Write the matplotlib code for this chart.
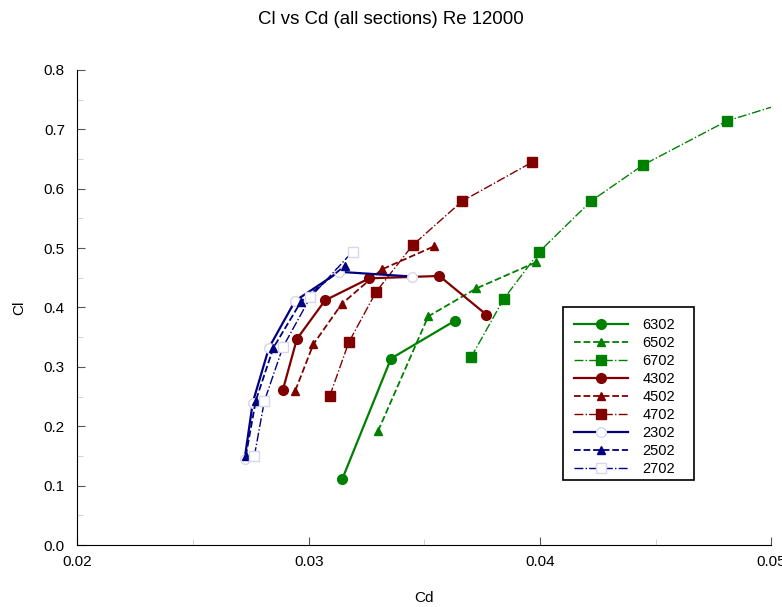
import matplotlib
matplotlib.use('Agg')
import matplotlib.pyplot as plt
from matplotlib.ticker import MultipleLocator
from matplotlib.patches import Rectangle

plt.rcParams['font.family'] = ['Liberation Sans', 'DejaVu Sans']

labels = ['6302', '6502', '6702', '4302', '4502', '4702', '2302', '2502', '2702']

cd_6302 = [0.03145, 0.03356, 0.03634]
cl_6302 = [0.111, 0.314, 0.378]
cd_6502 = [0.03300, 0.03517, 0.03725, 0.03983]
cl_6502 = [0.192, 0.385, 0.432, 0.476]
cd_6702 = [0.03702, 0.03843, 0.03998, 0.04221, 0.04447, 0.04809, 0.0525]
cl_6702 = [0.316, 0.414, 0.494, 0.579, 0.640, 0.714, 0.767]

cd_4302 = [0.02888, 0.02949, 0.03071, 0.03262, 0.03565, 0.03768]
cl_4302 = [0.261, 0.347, 0.412, 0.449, 0.453, 0.388]
cd_4502 = [0.02942, 0.03020, 0.03143, 0.03316, 0.03543]
cl_4502 = [0.260, 0.338, 0.406, 0.464, 0.503]
cd_4702 = [0.03091, 0.03173, 0.03291, 0.03450, 0.03664, 0.03964]
cl_4702 = [0.251, 0.341, 0.426, 0.505, 0.579, 0.644]

cd_2302 = [0.02723, 0.02758, 0.02828, 0.02941, 0.03131, 0.03448]
cl_2302 = [0.145, 0.240, 0.332, 0.411, 0.460, 0.452]
cd_2502 = [0.02728, 0.02771, 0.02847, 0.02967, 0.03156]
cl_2502 = [0.150, 0.243, 0.332, 0.410, 0.470]
cd_2702 = [0.02765, 0.02808, 0.02888, 0.03007, 0.03190]
cl_2702 = [0.150, 0.242, 0.333, 0.417, 0.494]

x_ticks = [0.02, 0.03, 0.04, 0.05]
x_ticklabels = ['0.02', '0.03', '0.04', '0.05']
y_ticks = [0.0, 0.1, 0.2, 0.3, 0.4, 0.5, 0.6, 0.7, 0.8]
y_ticklabels = ['0.0', '0.1', '0.2', '0.3', '0.4', '0.5', '0.6', '0.7', '0.8']

green = '#008000'
red = '#800000'
blue = '#000080'
pale = '#d6d6ee'

fig = plt.figure(figsize=(7.82, 6.07), dpi=100)
ax = fig.add_axes([0.0991, 0.102, 0.887, 0.783])

ax.plot(cd_6302, cl_6302, '-', color=green, lw=1.6, marker='o', ms=7, mec=green, label=labels[0])
ax.plot(cd_6502, cl_6502, '--', color=green, lw=1.3, marker='^', ms=6, mec=green, label=labels[1])
ax.plot(cd_6702, cl_6702, '-.', color=green, lw=1.0, marker='s', ms=7, mec=green, label=labels[2])
ax.plot(cd_4302, cl_4302, '-', color=red, lw=1.6, marker='o', ms=7, mec=red, label=labels[3])
ax.plot(cd_4502, cl_4502, '--', color=red, lw=1.3, marker='^', ms=6, mec=red, label=labels[4])
ax.plot(cd_4702, cl_4702, '-.', color=red, lw=1.0, marker='s', ms=7, mec=red, label=labels[5])
ax.plot(cd_2302, cl_2302, '-', color=blue, lw=1.6, marker='o', ms=7, mfc='white', mec=pale, label=labels[6])
ax.plot(cd_2502, cl_2502, '--', color=blue, lw=1.3, marker='^', ms=6, mec=blue, label=labels[7])
ax.plot(cd_2702, cl_2702, '-.', color=blue, lw=1.0, marker='s', ms=7, mfc='white', mec=pale, label=labels[8])

ax.set_xlim(0.02, 0.05)
ax.set_ylim(0.0, 0.8)
ax.set_xticks(x_ticks)
ax.set_xticklabels(x_ticklabels)
ax.set_yticks(y_ticks)
ax.set_yticklabels(y_ticklabels)
ax.xaxis.set_minor_locator(MultipleLocator(0.005))
ax.yaxis.set_minor_locator(MultipleLocator(0.05))

ax.spines['top'].set_visible(False)
ax.spines['right'].set_visible(False)
ax.tick_params(which='major', direction='in', length=6, color='#555555', labelsize=11)
ax.tick_params(which='minor', direction='in', length=4, color='#cccccc')
ax.tick_params(axis='x', pad=7)
ax.tick_params(axis='y', pad=9)

ax.set_xlabel('Cd', fontsize=11, labelpad=16)
ax.set_ylabel('Cl', fontsize=11, labelpad=13)
fig.text(0.5, 0.968, 'Cl vs Cd (all sections) Re 12000', fontsize=13.4, ha='center', va='center')

# legend box drawn by hand, a bit wider than matplotlib's frame
leg = ax.legend(loc='upper left', bbox_to_anchor=(0.70, 0.50), fontsize=10.5,
                frameon=False, handlelength=3.7, handletextpad=1.0,
                labelspacing=0.27, borderpad=0.75, borderaxespad=0)
ax.add_patch(Rectangle((0.700, 0.137), 0.189, 0.363, transform=ax.transAxes,
                       fill=True, facecolor='white', edgecolor='black', lw=1.2, zorder=4))
leg.set_zorder(5)

fig.savefig('out.png', dpi=100)
